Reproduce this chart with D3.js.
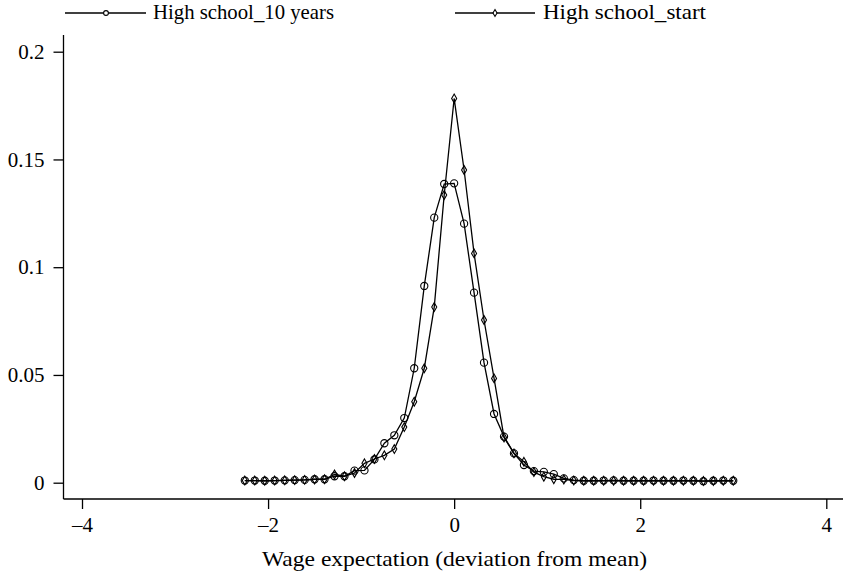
<!DOCTYPE html>
<html>
<head>
<meta charset="utf-8">
<script src="https://cdn.jsdelivr.net/npm/d3@7"></script>
<style>
  html, body { margin: 0; padding: 0; background: #fff; }
  svg { display: block; }
</style>
</head>
<body>
<svg id="chart" width="843" height="576"></svg>
<script>
// Evaluation grid (wage expectation, deviation from mean)
const gridX = [-2.25, -2.143, -2.036, -1.929, -1.821, -1.714, -1.607, -1.5, -1.393, -1.286,
  -1.179, -1.071, -0.964, -0.857, -0.75, -0.643, -0.536, -0.429, -0.321, -0.214,
  -0.107, 0, 0.107, 0.214, 0.321, 0.429, 0.536, 0.643, 0.75, 0.857,
  0.964, 1.071, 1.179, 1.286, 1.393, 1.5, 1.607, 1.714, 1.821, 1.929,
  2.036, 2.143, 2.25, 2.357, 2.464, 2.571, 2.679, 2.786, 2.893, 3.0];

// Density: High school_10 years (hollow circles)
const tenYears = [0.0010, 0.0010, 0.0009, 0.0010, 0.0011, 0.0012, 0.0013, 0.0016, 0.0016, 0.0030,
  0.0030, 0.0056, 0.0057, 0.0108, 0.0183, 0.0220, 0.0300, 0.0531, 0.0913, 0.1230,
  0.1386, 0.1389, 0.1202, 0.0882, 0.0557, 0.0319, 0.0214, 0.0136, 0.0082, 0.0054,
  0.0050, 0.0040, 0.0020, 0.0012, 0.0009, 0.0009, 0.0010, 0.0011, 0.0009, 0.0009,
  0.0009, 0.0010, 0.0009, 0.0009, 0.0010, 0.0009, 0.0007, 0.0009, 0.0010, 0.0009];

// Density: High school_start (hollow diamonds)
const start = [0.0010, 0.0010, 0.0009, 0.0010, 0.0011, 0.0012, 0.0013, 0.0015, 0.0016, 0.0038,
  0.0030, 0.0045, 0.0090, 0.0110, 0.0127, 0.0156, 0.0258, 0.0376, 0.0531, 0.0815,
  0.1335, 0.1783, 0.1451, 0.1064, 0.0755, 0.0484, 0.0210, 0.0136, 0.0097, 0.0049,
  0.0028, 0.0016, 0.0015, 0.0010, 0.0009, 0.0009, 0.0009, 0.0009, 0.0009, 0.0009,
  0.0009, 0.0009, 0.0009, 0.0009, 0.0009, 0.0009, 0.0008, 0.0008, 0.0009, 0.0009];

const xTicks = [-4, -2, 0, 2, 4];
const yTicks = [0, 0.05, 0.1, 0.15, 0.2];
const yTickLabels = ["0", "0.05", "0.1", "0.15", "0.2"];
const seriesNames = ["High school_10 years", "High school_start"];
const xTitle = "Wage expectation (deviation from mean)";

const FONT = '"Liberation Serif"';
const fontSize = 20;

const svg = d3.select("#chart");
const x = d3.scaleLinear().domain([-4, 4]).range([82, 826.3]);
const y = d3.scaleLinear().domain([0, 0.2]).range([482.7, 51.7]);

const axisLeftX = 63.5, axisBottomY = 499;

function styleText(sel, size) {
  sel.attr("font-family", null)
    .style("font-family", FONT).style("font-size", (size || fontSize) + "px").style("fill", "#000");
  return sel;
}

// Y axis
const yAxis = d3.axisLeft(y).tickValues(yTicks)
  .tickFormat((d, i) => yTickLabels[i]).tickSize(10).tickPadding(9);
const gy = svg.append("g").attr("transform", `translate(${axisLeftX},0)`).call(yAxis);
gy.attr("font-family", null).attr("font-size", null);
gy.select(".domain").remove();
gy.append("line").attr("x1", 0).attr("x2", 0).attr("y1", 35).attr("y2", axisBottomY)
  .attr("stroke", "#000").attr("stroke-width", 1.3);
gy.selectAll(".tick line").attr("stroke", "#000").attr("stroke-width", 1.3);
styleText(gy.selectAll(".tick text"), 21);

// X axis
const xAxis = d3.axisBottom(x).tickValues(xTicks)
  .tickFormat(d => d < 0 ? "\u2013" + Math.abs(d) : String(d)).tickSize(10).tickPadding(8);
const gx = svg.append("g").attr("transform", `translate(0,${axisBottomY})`).call(xAxis);
gx.attr("font-family", null).attr("font-size", null);
gx.select(".domain").remove();
gx.append("line").attr("x1", axisLeftX).attr("x2", 843).attr("y1", 0).attr("y2", 0)
  .attr("stroke", "#000").attr("stroke-width", 1.3);
gx.selectAll(".tick line").attr("stroke", "#000").attr("stroke-width", 1.3);
styleText(gx.selectAll(".tick text"), 21);

// X title
styleText(svg.append("text").attr("x", 454.5).attr("y", 566).attr("text-anchor", "middle")
  .attr("textLength", 385).attr("lengthAdjust", "spacingAndGlyphs")
  .text(xTitle), 21);

// Lines
const line = d3.line().x((d, i) => x(gridX[i])).y(d => y(d));
const g = svg.append("g");
g.append("path").datum(tenYears).attr("d", line).attr("fill", "none")
  .attr("stroke", "#000").attr("stroke-width", 1.3);
g.append("path").datum(start).attr("d", line).attr("fill", "none")
  .attr("stroke", "#000").attr("stroke-width", 1.3);

const circleSym = d3.symbol().type(d3.symbolCircle).size(Math.PI * 3.6 * 3.6);
const diamondSym = d3.symbol().type(d3.symbolDiamond).size(22);
const circleSymSmall = d3.symbol().type(d3.symbolCircle).size(Math.PI * 2.4 * 2.4);
const diamondSymSmall = d3.symbol().type(d3.symbolDiamond).size(14);

g.selectAll(".c").data(tenYears).join("path").attr("class", "c")
  .attr("d", circleSym)
  .attr("transform", (d, i) => `translate(${x(gridX[i])},${y(d)})`)
  .attr("fill", "none").attr("stroke", "#000").attr("stroke-width", 1.1);
g.selectAll(".dm").data(start).join("path").attr("class", "dm")
  .attr("d", diamondSym)
  .attr("transform", (d, i) => `translate(${x(gridX[i])},${y(d)})`)
  .attr("fill", "none").attr("stroke", "#000").attr("stroke-width", 1.1);

// Legend
const legend = [
  { name: seriesNames[0], x1: 65, x2: 146, mx: 106, sym: circleSymSmall, tx: 153, w: 181 },
  { name: seriesNames[1], x1: 455, x2: 535, mx: 495, sym: diamondSymSmall, tx: 543, w: 163 }
];
const ly = 13;
const lg = svg.append("g");
legend.forEach(l => {
  lg.append("line").attr("x1", l.x1).attr("x2", l.x2).attr("y1", ly).attr("y2", ly)
    .attr("stroke", "#000").attr("stroke-width", 1.3);
  lg.append("path").attr("d", l.sym).attr("transform", `translate(${l.mx},${ly})`)
    .attr("fill", "#fff").attr("stroke", "#000").attr("stroke-width", 1.1);
  styleText(lg.append("text").attr("x", l.tx).attr("y", ly + 6)
    .attr("textLength", l.w).attr("lengthAdjust", "spacingAndGlyphs").text(l.name), 21);
});
</script>
</body>
</html>
